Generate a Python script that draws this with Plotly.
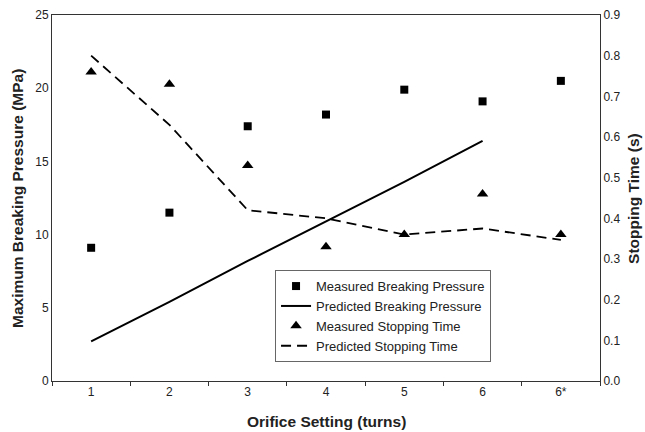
import plotly.graph_objects as go

categories = ["1", "2", "3", "4", "5", "6", "6*"]
measured_pressure = [9.1, 11.5, 17.4, 18.2, 19.9, 19.1, 20.5]
predicted_pressure = [2.7, 5.4, 8.2, 10.9, 13.6, 16.4, None]
measured_time = [0.76, 0.73, 0.53, 0.33, 0.36, 0.46, 0.36]
predicted_time = [0.80, 0.63, 0.42, 0.40, 0.36, 0.375, 0.347]

FONT = "Liberation Sans, Arial, sans-serif"
TXT = "#222222"

fig = go.Figure()
fig.add_trace(go.Scatter(x=categories, y=measured_pressure, mode="markers",
                         name="Measured Breaking Pressure",
                         marker=dict(symbol="square", size=8, color="black")))
fig.add_trace(go.Scatter(x=categories, y=predicted_pressure, mode="lines",
                         name="Predicted Breaking Pressure",
                         line=dict(color="black", width=2)))
fig.add_trace(go.Scatter(x=categories, y=measured_time, mode="markers",
                         name="Measured Stopping Time", yaxis="y2",
                         marker=dict(symbol="triangle-up", size=10, color="black")))
fig.add_trace(go.Scatter(x=categories, y=predicted_time, mode="lines",
                         name="Predicted Stopping Time", yaxis="y2",
                         line=dict(color="black", width=1.8, dash="10px,6px")))

fig.update_layout(
    width=645, height=432,
    margin=dict(l=52, r=45, t=15, b=51, autoexpand=False),
    paper_bgcolor="white", plot_bgcolor="white",
    font=dict(family=FONT, size=12, color=TXT),
    showlegend=True,
    legend=dict(x=0.407, y=0.303, xanchor="left", yanchor="top",
                bgcolor="white", bordercolor="#666666", borderwidth=1,
                font=dict(size=13, color=TXT), tracegroupgap=0,
                itemwidth=30),
    xaxis=dict(type="category", range=[-0.5, 6.5], showgrid=False,
               showline=True, linecolor="#333333", linewidth=1,
               mirror=True, ticks="outside", ticklen=4, tickcolor="#333333",
               tickson="boundaries", tickfont=dict(size=12, color=TXT),
               zeroline=False, automargin=False),
    yaxis=dict(range=[0, 25], dtick=5, showgrid=False, showline=True,
               linecolor="#333333", linewidth=1, ticks="", zeroline=False,
               tickfont=dict(size=12, color=TXT), automargin=False),
    yaxis2=dict(range=[0, 0.9], dtick=0.1, overlaying="y", side="right",
                showgrid=False, showline=True, linecolor="#333333", linewidth=1,
                ticks="", zeroline=False, tickformat=".1f",
                tickfont=dict(size=12, color=TXT), automargin=False),
    annotations=[
        dict(text="<b>Maximum Breaking Pressure (MPa)</b>", textangle=-90,
             xref="paper", yref="paper", x=-0.064, y=0.5,
             xanchor="center", yanchor="middle", showarrow=False,
             font=dict(size=15.5, color=TXT)),
        dict(text="<b>Stopping Time (s)</b>", textangle=-90,
             xref="paper", yref="paper", x=1.06, y=0.5,
             xanchor="center", yanchor="middle", showarrow=False,
             font=dict(size=15.5, color=TXT)),
        dict(text="<b>Orifice Setting (turns)</b>",
             xref="paper", yref="paper", x=0.5, y=-0.11,
             xanchor="center", yanchor="middle", showarrow=False,
             font=dict(size=15.5, color=TXT)),
    ],
)

fig.write_html("out.html", config={"displayModeBar": False},
               post_script="document.body.style.margin='0px';document.body.style.padding='0px';")
